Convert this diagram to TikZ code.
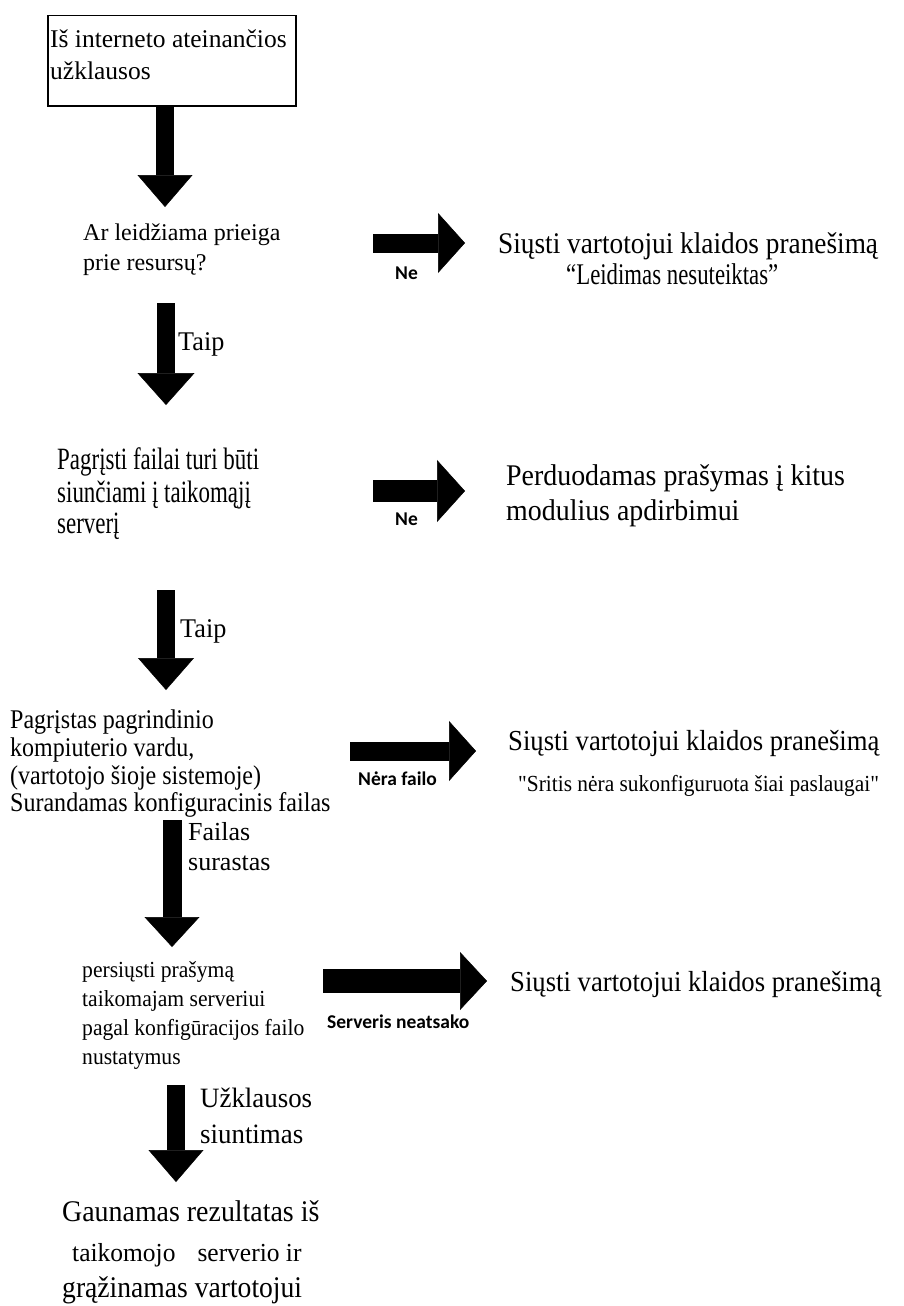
\documentclass[tikz,border=0pt]{standalone}
\usepackage{fontspec}
\setmainfont{Liberation Serif}[Ligatures=TeXOff]
\newfontfamily\lblfont{Carlito}
\usetikzlibrary{arrows.meta}
% serif text at a given size and horizontal stretch
\newcommand\ftx[2]{\fontsize{#1pt}{#1pt}\selectfont\addfontfeatures{FakeStretch=#2}}
\tikzset{
  txt/.style={anchor=base west, inner sep=0pt, text=black},
  lbl/.style={txt, font=\lblfont\bfseries\fontsize{19.5pt}{19.5pt}\selectfont},
  blockarrow/.style n args={3}{line width=#1, draw=black,
    -{Triangle[width=#2,length=#3,line width=0.5pt]}},
  startbox/.style={draw=black, line width=1.5pt, inner sep=0pt,
    anchor=north west, minimum width=248pt, minimum height=90pt}
}
\begin{document}
\begin{tikzpicture}[x=1pt,y=-1pt]
\useasboundingbox[fill=white] (0,0) rectangle (903,1306);

% start box
\node[startbox] (box) at (47,15) {};
\node[txt, font=\ftx{25.5}{1.0}] (s1) at (50,48) {Iš interneto ateinančios};
\node[txt, font=\ftx{25.5}{1.0}] (s2) at (50,80) {užklausos};

% question 1
\node[txt, font=\ftx{24}{1.0}] (q1a) at (83,240) {Ar leidžiama prieiga};
\node[txt, font=\ftx{24}{1.0}] (q1b) at (83,270) {prie resursų?};
\node[lbl] (ne1) at (395,279) {Ne};
\node[txt, font=\ftx{30}{0.91}] (r1a) at (498,253) {Siųsti vartotojui klaidos pranešimą};
\node[txt, font=\ftx{30}{0.76}] (r1b) at (566,284) {“Leidimas nesuteiktas”};
\node[txt, font=\ftx{27}{0.97}] (t1) at (178,350) {Taip};

% question 2
\node[txt, font=\ftx{31}{0.74}] (q2a) at (57,469) {Pagrįsti failai turi būti};
\node[txt, font=\ftx{31}{0.74}] (q2b) at (57,502) {siunčiami į taikomąjį};
\node[txt, font=\ftx{31}{0.74}] (q2c) at (57,533) {serverį};
\node[lbl] (ne2) at (395,525) {Ne};
\node[txt, font=\ftx{30}{0.93}] (r2a) at (506,485) {Perduodamas prašymas į kitus};
\node[txt, font=\ftx{30}{0.93}] (r2b) at (506,520) {modulius apdirbimui};
\node[txt, font=\ftx{27}{0.97}] (t2) at (180,637) {Taip};

% configuration lookup
\node[txt, font=\ftx{27}{0.89}] (q3a) at (10,728) {Pagrįstas pagrindinio};
\node[txt, font=\ftx{27}{0.89}] (q3b) at (10,756) {kompiuterio vardu,};
\node[txt, font=\ftx{27}{0.89}] (q3c) at (10,784) {(vartotojo šioje sistemoje)};
\node[txt, font=\ftx{27}{0.89}] (q3d) at (10,811) {Surandamas konfiguracinis failas};
\node[lbl] (nf) at (358,785) {Nėra failo};
\node[txt, font=\ftx{29}{0.92}] (r3a) at (508,750) {Siųsti vartotojui klaidos pranešimą};
\node[txt, font=\ftx{23}{0.93}] (r3b) at (518,791) {"Sritis nėra sukonfiguruota šiai paslaugai"};
\node[txt, font=\ftx{26}{1.0}] (fa) at (188,840) {Failas};
\node[txt, font=\ftx{26}{1.0}] (fb) at (188,870) {surastas};

% forwarding
\node[txt, font=\ftx{23}{0.94}] (q4a) at (82,977) {persiųsti prašymą};
\node[txt, font=\ftx{23}{0.94}] (q4b) at (82,1006) {taikomajam serveriui};
\node[txt, font=\ftx{23}{0.94}] (q4c) at (82,1035) {pagal konfigūracijos failo};
\node[txt, font=\ftx{23}{0.94}] (q4d) at (82,1064) {nustatymus};
\node[lbl] (sn) at (327,1028) {Serveris neatsako};
\node[txt, font=\ftx{29}{0.92}] (r4) at (510,991) {Siųsti vartotojui klaidos pranešimą};
\node[txt, font=\ftx{28}{0.96}] (ua) at (200,1107) {Užklausos};
\node[txt, font=\ftx{28}{0.96}] (ub) at (200,1143) {siuntimas};

% result
\node[txt, font=\ftx{30}{0.93}] (g1) at (62,1221) {Gaunamas rezultatas iš};
\node[txt, font=\ftx{26}{0.98}] (g2) at (72,1261) {taikomojo\hspace{22pt}serverio ir};
\node[txt, font=\ftx{30}{0.92}] (g3) at (62,1297) {grąžinamas vartotojui};

% arrow end points
\coordinate (a1s) at (165,105);  \coordinate (a1e) at (165,207);
\coordinate (a2s) at (166,303);  \coordinate (a2e) at (166,405);
\coordinate (a3s) at (166,590);  \coordinate (a3e) at (166,690);
\coordinate (a4s) at (172,820);  \coordinate (a4e) at (172,947);
\coordinate (a5s) at (176,1085); \coordinate (a5e) at (176,1182);
\coordinate (h1s) at (373,243);  \coordinate (h1e) at (465,243);
\coordinate (h2s) at (373,491);  \coordinate (h2e) at (465,491);
\coordinate (h3s) at (350,751);  \coordinate (h3e) at (476,751);
\coordinate (h4s) at (323,981);  \coordinate (h4e) at (487,981);

% vertical arrows
\draw[blockarrow={18pt}{55pt}{32pt}] (a1s) -- (a1e);
\draw[blockarrow={18pt}{57pt}{32pt}] (a2s) -- (a2e);
\draw[blockarrow={18pt}{56pt}{32pt}] (a3s) -- (a3e);
\draw[blockarrow={19pt}{55pt}{30pt}] (a4s) -- (a4e);
\draw[blockarrow={18pt}{55pt}{32pt}] (a5s) -- (a5e);

% horizontal arrows
\draw[blockarrow={19pt}{60pt}{27pt}] (h1s) -- (h1e);
\draw[blockarrow={22pt}{62pt}{28pt}] (h2s) -- (h2e);
\draw[blockarrow={19pt}{60pt}{27pt}] (h3s) -- (h3e);
\draw[blockarrow={24pt}{58pt}{27pt}] (h4s) -- (h4e);
\end{tikzpicture}
\end{document}
